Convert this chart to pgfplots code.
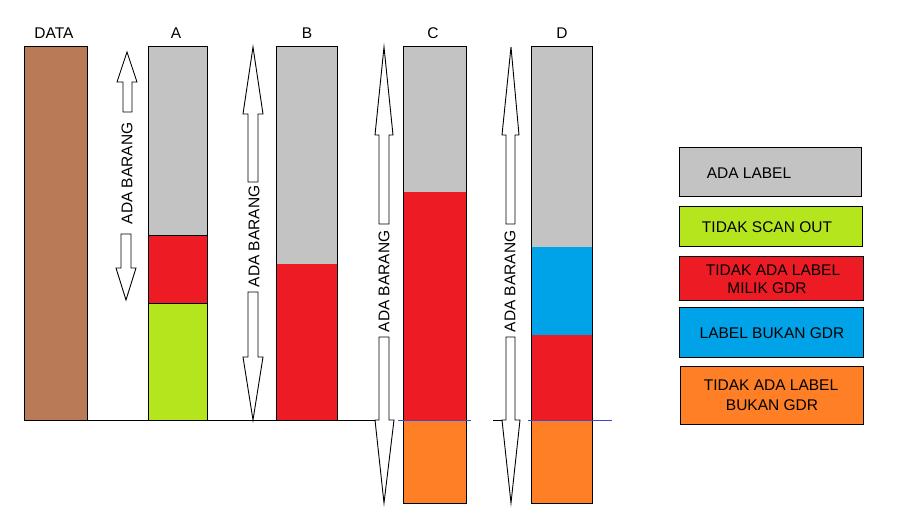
\documentclass[border=0pt]{standalone}
\usepackage{pgfplots}
\pgfplotsset{compat=1.18}
\usepackage{fontspec}
\setmainfont{Liberation Sans}

\definecolor{cgray}{HTML}{C3C3C3}
\definecolor{cgreen}{HTML}{B5E61D}
\definecolor{cred}{HTML}{ED1C24}
\definecolor{cblue}{HTML}{00A2E8}
\definecolor{corange}{HTML}{FF7F27}
\definecolor{cbrown}{HTML}{B97A57}
\definecolor{cline}{HTML}{3F48CC}

% filled segment: x0 x1 ytop ybottom colour (pixel coords, y downwards)
\newcommand{\seg}[5]{\addplot[fill=#5, draw=none] coordinates {(#1,#3) (#2,#3) (#2,#4) (#1,#4)} -- cycle;}
\newcommand{\outline}[4]{\addplot[draw=black, fill=none, line width=0.5pt] coordinates {(#1,#3) (#2,#3) (#2,#4) (#1,#4)} -- cycle;}
\newcommand{\keybox}[5]{\addplot[fill=#5, draw=black, line width=0.5pt] coordinates {(#1,#3) (#2,#3) (#2,#4) (#1,#4)} -- cycle;}

\begin{document}
\begin{tikzpicture}[lbl/.style={font=\fontsize{7.75}{9.5}\selectfont, inner sep=0pt}]
\begin{axis}[
    width=450pt, height=264.5pt, scale only axis,
    xmin=0, xmax=900, ymin=0, ymax=529, y dir=reverse,
    axis line style={draw=none}, xtick=\empty, ytick=\empty,
    clip=false,
    arr/.style={fill=white, draw=black, line width=0.45pt, line join=miter},
]
% DATA
\keybox{24}{87}{47}{420}{cbrown}
% A
\seg{148}{207}{47}{235}{cgray}
\seg{148}{207}{235}{303}{cred}
\seg{148}{207}{303}{420}{cgreen}
\addplot[black, line width=0.4pt] coordinates {(148,235) (207,235)};
\addplot[black, line width=0.4pt] coordinates {(148,303) (207,303)};
\outline{148}{207}{47}{420}
% B
\seg{276}{337}{47}{264}{cgray}
\seg{276}{337}{264}{420}{cred}
\outline{276}{337}{47}{420}
% C
\seg{403}{466}{47}{192}{cgray}
\seg{403}{466}{192}{420}{cred}
\seg{403}{466}{420}{503}{corange}
\outline{403}{466}{47}{503}
% D
\seg{531}{592}{47}{247}{cgray}
\seg{531}{592}{247}{335}{cblue}
\seg{531}{592}{335}{420}{cred}
\seg{531}{592}{420}{503}{corange}
\outline{531}{592}{47}{503}

% base lines
\addplot[black, line width=0.5pt] coordinates {(87,420) (380,420)};
\addplot[black, line width=0.5pt] coordinates {(493,420) (505,420)};
\addplot[cline, line width=0.5pt] coordinates {(398,420) (471,420)};
\addplot[cline, line width=0.5pt] coordinates {(528,420) (612,420)};

% block arrows
\addplot[arr] coordinates {(127,52) (137,82) (132,82) (132,112) (123,112) (123,82) (117,82)} -- cycle;
\addplot[arr] coordinates {(121,234) (131,234) (131,268) (136,268) (126,300) (116,268) (121,268)} -- cycle;
\addplot[arr] coordinates {(253,47) (263,114) (258,114) (258,182) (248,182) (248,114) (243,114)} -- cycle;
\addplot[arr] coordinates {(248,292) (258,292) (258,357) (263,357) (253,420) (243,357) (248,357)} -- cycle;
\addplot[arr] coordinates {(384,47) (393,135) (389,135) (389,224) (379,224) (379,135) (375,135)} -- cycle;
\addplot[arr] coordinates {(379,337) (389,337) (389,420) (394,420) (384,503) (375,420) (379,420)} -- cycle;
\addplot[arr] coordinates {(511,47) (519,135) (515,135) (515,224) (506,224) (506,135) (502,135)} -- cycle;
\addplot[arr] coordinates {(506,337) (515,337) (515,420) (520,420) (511,503) (502,420) (506,420)} -- cycle;

\node[lbl, rotate=90] at (axis cs:127,173.5) {ADA BARANG};
\node[lbl, rotate=90] at (axis cs:254,236.5) {ADA BARANG};
\node[lbl, rotate=90] at (axis cs:384,281.5) {ADA BARANG};
\node[lbl, rotate=90] at (axis cs:510,281.5) {ADA BARANG};

% column titles
\node[lbl] at (axis cs:54,33) {DATA};
\node[lbl] at (axis cs:176,33) {A};
\node[lbl] at (axis cs:307,33) {B};
\node[lbl] at (axis cs:433,33) {C};
\node[lbl] at (axis cs:562,33) {D};

% key boxes
\keybox{679}{861}{148}{197}{cgray}
\keybox{679}{862}{207}{247}{cgreen}
\keybox{679}{863}{257}{301}{cred}
\keybox{679}{863}{308}{358}{cblue}
\keybox{680}{863}{367}{424}{corange}
\node[lbl] at (axis cs:749,173) {ADA LABEL};
\node[lbl] at (axis cs:767,227) {TIDAK SCAN OUT};
\node[lbl] at (axis cs:773,270.5) {TIDAK ADA LABEL};
\node[lbl] at (axis cs:767,288.5) {MILIK GDR};
\node[lbl] at (axis cs:772,333) {LABEL BUKAN GDR};
\node[lbl] at (axis cs:771,385.5) {TIDAK ADA LABEL};
\node[lbl] at (axis cs:772,405.5) {BUKAN GDR};
\end{axis}
\end{tikzpicture}
\end{document}
